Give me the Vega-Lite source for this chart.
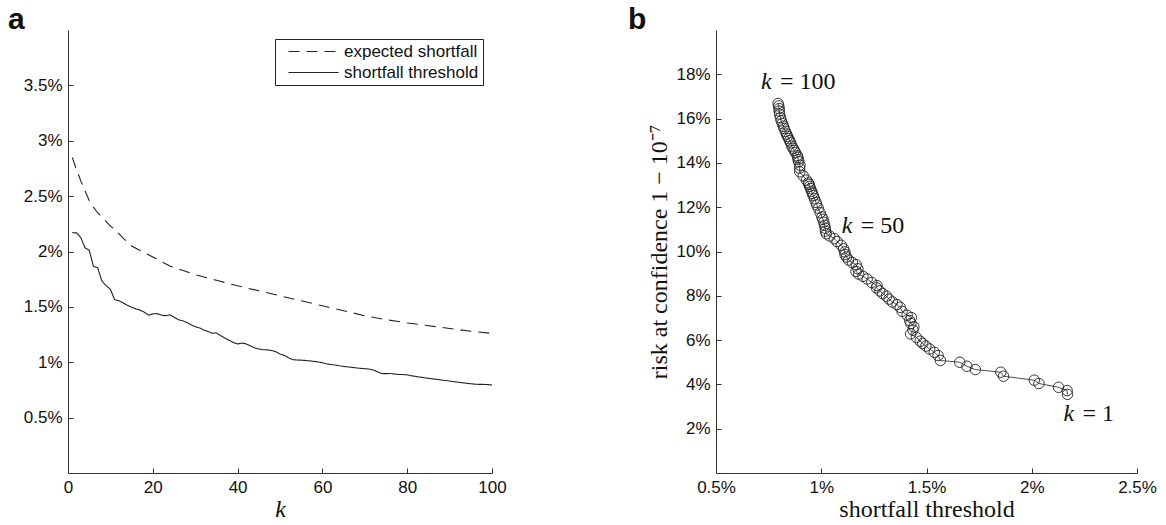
{
  "$schema": "https://vega.github.io/schema/vega-lite/v6.json",
  "background": "white",
  "padding": {"left": 8, "top": 5, "right": 3, "bottom": 3},
  "spacing": 224,
  "bounds": "flush",
  "resolve": {"legend": {"strokeDash": "independent"}, "scale": {"x": "independent", "y": "independent"}},
  "config": {
    "view": {"stroke": null},
    "font": "Liberation Sans",
    "axis": {
      "domainColor": "#333", "tickColor": "#333", "labelColor": "#111",
      "labelFont": "Liberation Sans", "labelFontSize": 17,
      "tickSize": -5, "labelPadding": 11, "grid": false,
      "titleFont": "Liberation Serif", "titleFontSize": 24, "titleFontWeight": "normal", "titleColor": "#111",
      "domainWidth": 1, "tickWidth": 1, "labelFlush": false
    },
    "title": {"font": "Liberation Sans", "fontSize": 30, "fontWeight": "bold", "anchor": "start", "color": "#111", "baseline": "alphabetic", "offset": -5}
  },
  "datasets": {
    "es": [
      {"k": 1, "v": 2.85}, {"k": 2, "v": 2.74}, {"k": 3, "v": 2.64}, {"k": 4, "v": 2.55}, {"k": 5, "v": 2.46},
      {"k": 6, "v": 2.40}, {"k": 7, "v": 2.35}, {"k": 8, "v": 2.31}, {"k": 9, "v": 2.27}, {"k": 10, "v": 2.23},
      {"k": 11, "v": 2.20}, {"k": 13, "v": 2.12}, {"k": 15, "v": 2.05}, {"k": 18, "v": 1.99}, {"k": 20, "v": 1.95},
      {"k": 24, "v": 1.87}, {"k": 27, "v": 1.83}, {"k": 30, "v": 1.79}, {"k": 35, "v": 1.74}, {"k": 40, "v": 1.69},
      {"k": 45, "v": 1.645}, {"k": 50, "v": 1.60}, {"k": 55, "v": 1.555}, {"k": 60, "v": 1.51}, {"k": 65, "v": 1.465},
      {"k": 70, "v": 1.42}, {"k": 75, "v": 1.385}, {"k": 80, "v": 1.355}, {"k": 85, "v": 1.33}, {"k": 90, "v": 1.305},
      {"k": 95, "v": 1.28}, {"k": 100, "v": 1.26}
    ],
    "pb": [
      {"k": 1, "s": 2.17, "r": 3.55}, {"k": 2, "s": 2.168, "r": 3.72}, {"k": 3, "s": 2.127, "r": 3.87}, {"k": 4, "s": 2.034, "r": 4.04}, {"k": 5, "s": 2.012, "r": 4.19},
      {"k": 6, "s": 1.866, "r": 4.37}, {"k": 7, "s": 1.853, "r": 4.55}, {"k": 8, "s": 1.732, "r": 4.67}, {"k": 9, "s": 1.692, "r": 4.82}, {"k": 10, "s": 1.658, "r": 5.0},
      {"k": 11, "s": 1.566, "r": 5.08}, {"k": 12, "s": 1.555, "r": 5.3}, {"k": 13, "s": 1.537, "r": 5.45}, {"k": 14, "s": 1.515, "r": 5.6}, {"k": 15, "s": 1.497, "r": 5.73},
      {"k": 16, "s": 1.482, "r": 5.85}, {"k": 17, "s": 1.47, "r": 5.95}, {"k": 18, "s": 1.452, "r": 6.12}, {"k": 19, "s": 1.425, "r": 6.28}, {"k": 20, "s": 1.436, "r": 6.45},
      {"k": 21, "s": 1.44, "r": 6.6}, {"k": 22, "s": 1.426, "r": 6.75}, {"k": 23, "s": 1.42, "r": 6.88}, {"k": 24, "s": 1.428, "r": 7.02}, {"k": 25, "s": 1.408, "r": 7.12},
      {"k": 26, "s": 1.384, "r": 7.3}, {"k": 27, "s": 1.375, "r": 7.48}, {"k": 28, "s": 1.36, "r": 7.6}, {"k": 29, "s": 1.338, "r": 7.72}, {"k": 30, "s": 1.322, "r": 7.85},
      {"k": 31, "s": 1.31, "r": 7.98}, {"k": 32, "s": 1.292, "r": 8.1}, {"k": 33, "s": 1.278, "r": 8.22}, {"k": 34, "s": 1.262, "r": 8.36}, {"k": 35, "s": 1.265, "r": 8.46},
      {"k": 36, "s": 1.24, "r": 8.6}, {"k": 37, "s": 1.218, "r": 8.76}, {"k": 38, "s": 1.198, "r": 8.88}, {"k": 39, "s": 1.178, "r": 8.98}, {"k": 40, "s": 1.165, "r": 9.1},
      {"k": 41, "s": 1.174, "r": 9.22}, {"k": 42, "s": 1.166, "r": 9.4}, {"k": 43, "s": 1.148, "r": 9.5}, {"k": 44, "s": 1.13, "r": 9.62}, {"k": 45, "s": 1.12, "r": 9.75},
      {"k": 46, "s": 1.113, "r": 9.86}, {"k": 47, "s": 1.112, "r": 9.98}, {"k": 48, "s": 1.106, "r": 10.12}, {"k": 49, "s": 1.095, "r": 10.28}, {"k": 50, "s": 1.075, "r": 10.45},
      {"k": 51, "s": 1.062, "r": 10.58}, {"k": 52, "s": 1.04, "r": 10.7}, {"k": 53, "s": 1.024, "r": 10.8}, {"k": 54, "s": 1.02, "r": 10.92}, {"k": 55, "s": 1.019, "r": 11.05},
      {"k": 56, "s": 1.016, "r": 11.18}, {"k": 57, "s": 1.012, "r": 11.32}, {"k": 58, "s": 1.008, "r": 11.45}, {"k": 59, "s": 1.003, "r": 11.56}, {"k": 60, "s": 0.995, "r": 11.75},
      {"k": 61, "s": 0.986, "r": 11.95}, {"k": 62, "s": 0.979, "r": 12.1}, {"k": 63, "s": 0.975, "r": 12.22}, {"k": 64, "s": 0.968, "r": 12.38}, {"k": 65, "s": 0.962, "r": 12.52},
      {"k": 66, "s": 0.958, "r": 12.62}, {"k": 67, "s": 0.954, "r": 12.72}, {"k": 68, "s": 0.949, "r": 12.84}, {"k": 69, "s": 0.945, "r": 12.94}, {"k": 70, "s": 0.942, "r": 13.03},
      {"k": 71, "s": 0.939, "r": 13.1}, {"k": 72, "s": 0.93, "r": 13.22}, {"k": 73, "s": 0.914, "r": 13.42}, {"k": 74, "s": 0.898, "r": 13.6}, {"k": 75, "s": 0.897, "r": 13.76},
      {"k": 76, "s": 0.899, "r": 13.9}, {"k": 77, "s": 0.893, "r": 14.05}, {"k": 78, "s": 0.89, "r": 14.15}, {"k": 79, "s": 0.889, "r": 14.25}, {"k": 80, "s": 0.886, "r": 14.32},
      {"k": 81, "s": 0.878, "r": 14.46}, {"k": 82, "s": 0.872, "r": 14.56}, {"k": 83, "s": 0.866, "r": 14.66}, {"k": 84, "s": 0.86, "r": 14.76}, {"k": 85, "s": 0.855, "r": 14.9},
      {"k": 86, "s": 0.85, "r": 15.0}, {"k": 87, "s": 0.845, "r": 15.1}, {"k": 88, "s": 0.84, "r": 15.2}, {"k": 89, "s": 0.835, "r": 15.3}, {"k": 90, "s": 0.83, "r": 15.42},
      {"k": 91, "s": 0.824, "r": 15.55}, {"k": 92, "s": 0.82, "r": 15.66}, {"k": 93, "s": 0.815, "r": 15.78}, {"k": 94, "s": 0.81, "r": 15.9}, {"k": 95, "s": 0.806, "r": 16.04},
      {"k": 96, "s": 0.802, "r": 16.2}, {"k": 97, "s": 0.8, "r": 16.34}, {"k": 98, "s": 0.8, "r": 16.45}, {"k": 99, "s": 0.798, "r": 16.57}, {"k": 100, "s": 0.795, "r": 16.68}
    ],
    "ann": [
      {"s": 0.714, "r": 17.34, "eq": "= 100"},
      {"s": 1.097, "r": 10.85, "eq": "= 50"},
      {"s": 2.151, "r": 2.35, "eq": "= 1"}
    ]
  },
  "hconcat": [
    {
      "width": 424,
      "height": 443,
      "title": {"text": "a", "dx": -60, "frame": "group"},
      "layer": [
        {
          "data": {"name": "es"},
          "mark": {"type": "line", "color": "#222", "strokeWidth": 1.1},
          "encoding": {
            "x": {"field": "k", "type": "quantitative", "scale": {"domain": [0, 100], "nice": false},
                  "axis": {"values": [0, 20, 40, 60, 80, 100], "title": "k", "titleFontStyle": "italic", "titlePadding": 2}},
            "y": {"field": "v", "type": "quantitative", "scale": {"domain": [0, 4], "nice": false},
                  "axis": {"values": [0.5, 1, 1.5, 2, 2.5, 3, 3.5], "labelExpr": "datum.value + '%'", "title": null}},
            "strokeDash": {"datum": "expected shortfall", "type": "nominal",
              "scale": {"domain": ["expected shortfall", "shortfall threshold"], "range": [[11, 7], [1, 0]]},
              "legend": {"title": null, "orient": "top-right", "offset": 9, "strokeColor": "#222", "fillColor": "white",
                "padding": 4, "symbolOffset": 6, "symbolType": "M-1,0H9", "symbolSize": 100, "symbolStrokeWidth": 1.1, "symbolStrokeColor": "#222",
                "labelFontSize": 17, "labelFont": "Liberation Sans", "labelColor": "#111", "labelOffset": 42, "rowPadding": 3}}
          }
        },
        {
          "data": {"name": "pb"},
          "mark": {"type": "line", "color": "#222", "strokeWidth": 1.1},
          "encoding": {
            "x": {"field": "k", "type": "quantitative"},
            "y": {"field": "s", "type": "quantitative"},
            "strokeDash": {"datum": "shortfall threshold", "type": "nominal"}
          }
        }
      ]
    },
    {
      "width": 421,
      "height": 443,
      "title": {"text": "b", "dx": -88, "frame": "group"},
      "layer": [
        {
          "data": {"name": "pb"},
          "mark": {"type": "line", "color": "#222", "strokeWidth": 0.8},
          "encoding": {
            "x": {"field": "s", "type": "quantitative", "scale": {"domain": [0.5, 2.5], "nice": false, "zero": false},
                  "axis": {"values": [0.5, 1, 1.5, 2, 2.5], "labelExpr": "datum.value + '%'", "title": "shortfall threshold", "titlePadding": 2}},
            "y": {"field": "r", "type": "quantitative", "scale": {"domain": [0, 20], "nice": false},
                  "axis": {"values": [2, 4, 6, 8, 10, 12, 14, 16, 18], "labelExpr": "datum.value + '%'", "title": "risk at confidence 1 − 10⁻⁷", "titlePadding": 4}},
            "order": {"field": "k"}
          }
        },
        {
          "data": {"name": "pb"},
          "mark": {"type": "point", "shape": "circle", "filled": false, "size": 110, "color": "#222", "strokeWidth": 0.9, "opacity": 1},
          "encoding": {
            "x": {"field": "s", "type": "quantitative"},
            "y": {"field": "r", "type": "quantitative"}
          }
        },
        {
          "data": {"name": "ann"},
          "mark": {"type": "text", "text": "k", "font": "Liberation Serif", "fontStyle": "italic", "fontSize": 24, "align": "left", "baseline": "alphabetic", "color": "#111"},
          "encoding": {
            "x": {"field": "s", "type": "quantitative"},
            "y": {"field": "r", "type": "quantitative"}
          }
        },
        {
          "data": {"name": "ann"},
          "mark": {"type": "text", "font": "Liberation Serif", "fontSize": 24, "align": "left", "baseline": "alphabetic", "dx": 19, "color": "#111"},
          "encoding": {
            "x": {"field": "s", "type": "quantitative"},
            "y": {"field": "r", "type": "quantitative"},
            "text": {"field": "eq"}
          }
        }
      ]
    }
  ]
}
